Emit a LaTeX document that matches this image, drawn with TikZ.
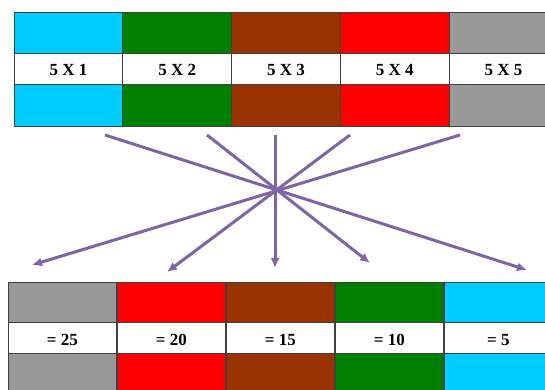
\documentclass[tikz,border=0pt]{standalone}
\usepackage{fontspec}
\setmainfont{Liberation Serif}
\usetikzlibrary{arrows.meta}
\definecolor{cCyan}{HTML}{00CCFF}
\definecolor{cGreen}{HTML}{008000}
\definecolor{cBrown}{HTML}{993300}
\definecolor{cRed}{HTML}{FF0000}
\definecolor{cGray}{HTML}{999999}
\definecolor{rayc}{HTML}{7F65A8}
\begin{document}
\begin{tikzpicture}[x=1pt,y=-1pt,
  cell/.style={draw=black!75,line width=0.8pt,anchor=north west,minimum width=108.8pt,inner sep=0pt,outer sep=0pt},
  lbl/.style={cell,fill=white,text height=15pt,text depth=0pt,font=\bfseries\fontsize{17}{19}\selectfont},
  ray/.style={draw=rayc,line width=3pt,-{Latex[length=10pt,width=9pt]}}]
\useasboundingbox (0,0) rectangle (545,390);
\clip (0,0) rectangle (545,390);
\fill[white] (0,0) rectangle (545,390);
% top table
\foreach \i/\c/\t in {0/cCyan/5 X 1,1/cGreen/5 X 2,2/cBrown/5 X 3,3/cRed/5 X 4,4/cGray/5 X 5}{
  \node[cell,fill=\c,minimum height=41pt] (ta\i) at (14+108.8*\i,12) {};
  \node[lbl,minimum height=31pt] (tl\i) at (14+108.8*\i,53) {\t};
  \node[cell,fill=\c,minimum height=42pt] (tb\i) at (14+108.8*\i,84) {};
}
% bottom table
\foreach \i/\c/\t in {0/cGray/= 25,1/cRed/= 20,2/cBrown/= 15,3/cGreen/= 10,4/cCyan/= 5}{
  \node[cell,fill=\c,minimum height=40pt] (ba\i) at (8+109*\i,282) {};
  \node[lbl,minimum height=31pt] (bl\i) at (8+109*\i,322) {\t};
  \node[cell,fill=\c,minimum height=45pt] (bb\i) at (8+109*\i,353) {};
}
% rays
\coordinate (s1) at (105,135);
\coordinate (s2) at (207,135);
\coordinate (s3) at (275,135);
\coordinate (s4) at (350,135);
\coordinate (s5) at (460,135);
\coordinate (e1) at (32,265);
\coordinate (e2) at (167,272);
\coordinate (e3) at (275,268);
\coordinate (e4) at (370,263);
\coordinate (e5) at (527,270);
\draw[ray] (s1) -- (e5);
\draw[ray] (s2) -- (e4);
\draw[ray] (s3) -- (e3);
\draw[ray] (s4) -- (e2);
\draw[ray] (s5) -- (e1);
\end{tikzpicture}
\end{document}
